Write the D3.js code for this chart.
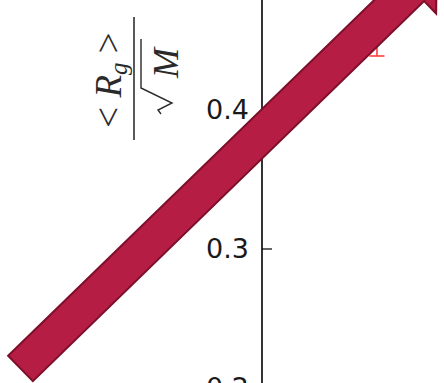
<!DOCTYPE html>
<html>
<head>
<meta charset="utf-8">
<script src="https://cdn.jsdelivr.net/npm/d3@7"></script>
<style>
  html, body { margin: 0; padding: 0; background: #fff; }
  svg { display: block; }
</style>
</head>
<body>
<svg id="chart" width="444" height="383"></svg>
<script>
// Axis limits and tick labels
const yLimits = [0.18, 0.52];
const yTicks = [0.2, 0.3, 0.4];
const xLimits = [0, 1];

// Measured mean radius of gyration with its error bar
const pointX = [0.657];
const pointMean = [0.455];
const pointLow = [0.4385];
const pointHigh = [0.4715];

// Trend arrow drawn across the panel (tail and tip, data units)
const arrowX = [-1.38, 0.999];
const arrowY = [0.2137, 0.5047];

const svg = d3.select("#chart");

const x = d3.scaleLinear().domain(xLimits).range([262, 437]);
const y = d3.scaleLinear().domain([0.2, 0.4]).range([387.5, 109.5]);

// Left spine
svg.append("line")
  .attr("x1", x(0)).attr("x2", x(0))
  .attr("y1", y(yLimits[1])).attr("y2", y(yLimits[0]))
  .attr("stroke", "#000").attr("stroke-width", 1.6);

// Ticks point into the plot, labels on the left
const axis = d3.axisLeft(y)
  .tickValues(yTicks)
  .tickFormat(d3.format(".1f"))
  .tickSizeInner(-10)
  .tickSizeOuter(0)
  .tickPadding(13);

const gAxis = svg.append("g")
  .attr("transform", `translate(${x(0)},0)`)
  .call(axis);
gAxis.select(".domain").remove();
gAxis.selectAll(".tick line").attr("stroke", "#000").attr("stroke-width", 1.2);
gAxis.selectAll(".tick text")
  .attr("fill", "#1a1a1a")
  .style("font-family", "'DejaVu Sans', sans-serif")
  .style("font-size", "27px");

// Error bar
pointX.forEach((px, i) => {
  const cx = x(px);
  const g = svg.append("g").attr("stroke", "#ff1a1a").attr("stroke-width", 1.6).attr("opacity", 0.85);
  g.append("line").attr("x1", cx).attr("x2", cx)
    .attr("y1", y(pointHigh[i])).attr("y2", y(pointLow[i]));
  g.append("line").attr("x1", cx - 7.5).attr("x2", cx + 7.5)
    .attr("y1", y(pointLow[i])).attr("y2", y(pointLow[i]));
  g.append("line").attr("x1", cx - 7.5).attr("x2", cx + 7.5)
    .attr("y1", y(pointHigh[i])).attr("y2", y(pointHigh[i]));
});

// Wide arrow
(function drawArrow() {
  const p0 = [x(arrowX[0]), y(arrowY[0])];
  const p1 = [x(arrowX[1]), y(arrowY[1])];
  const len = Math.hypot(p1[0] - p0[0], p1[1] - p0[1]);
  const d = [(p1[0] - p0[0]) / len, (p1[1] - p0[1]) / len];
  const n = [-d[1], d[0]];
  const bodyHalf = 17.75, headHalf = 35, headLen = 35;
  const base = [p1[0] - d[0] * headLen, p1[1] - d[1] * headLen];
  const off = (p, s) => [p[0] + n[0] * s, p[1] + n[1] * s];
  const pts = [
    off(p0, -bodyHalf), off(base, -bodyHalf), off(base, -headHalf),
    p1,
    off(base, headHalf), off(base, bodyHalf), off(p0, bodyHalf)
  ];
  svg.append("path")
    .attr("d", d3.line()(pts) + "Z")
    .attr("fill", "#b51d45")
    .attr("stroke", "#7d0f2a")
    .attr("stroke-width", 2)
    .attr("stroke-linejoin", "miter");
})();

// Y label: <R_g> / sqrt(M), rotated
const lab = svg.append("g")
  .attr("transform", "translate(134,78) rotate(-90)")
  .style("font-family", "'Liberation Serif', 'DejaVu Serif', serif");

lab.append("line")
  .attr("x1", -62).attr("x2", 61).attr("y1", 0).attr("y2", 0)
  .attr("stroke", "#222").attr("stroke-width", 1.5);

const num = lab.append("text")
  .attr("x", -2).attr("y", -13)
  .attr("text-anchor", "middle")
  .attr("fill", "#2a2a2a")
  .style("font-size", "37px");
num.append("tspan").text("< ");
num.append("tspan").style("font-style", "italic").text("R");
num.append("tspan").attr("dy", 6).style("font-style", "italic").style("font-size", "25px").text("g");
num.append("tspan").attr("dy", -6).text(" >");

// radical sign
lab.append("path")
  .attr("d", "M-36,27 L-32,24 L-25,38 L-10,7 L39,7")
  .attr("fill", "none")
  .attr("stroke", "#2a2a2a")
  .attr("stroke-width", 1.4);
lab.append("text")
  .attr("x", 15).attr("y", 44)
  .attr("text-anchor", "middle")
  .attr("fill", "#2a2a2a")
  .style("font-size", "36px")
  .style("font-style", "italic")
  .text("M");
</script>
</body>
</html>
